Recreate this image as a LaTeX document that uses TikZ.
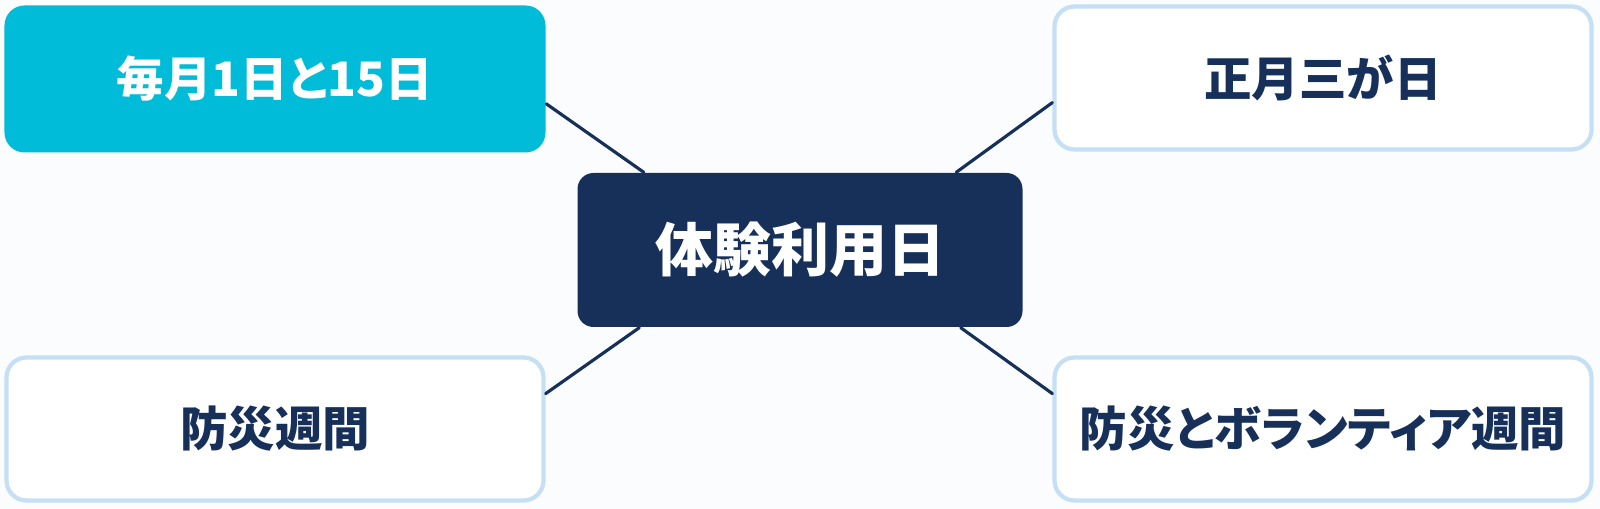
\documentclass[tikz,border=0pt]{standalone}
\usepackage{fontspec}
\setmainfont{Noto Sans CJK JP}[RawFeature=+palt]
\usetikzlibrary{calc}
\definecolor{navy}{RGB}{22,48,90}
\definecolor{cyanbox}{RGB}{0,188,217}
\definecolor{edgeblue}{RGB}{197,223,245}
\definecolor{bg}{RGB}{251,252,254}
\begin{document}
\begin{tikzpicture}[line join=round,line cap=round,
	box/.style={rounded corners=.2cm,minimum width=5.37cm,minimum height=1.43cm,inner sep=0pt,
		font=\fontsize{13.5}{16}\selectfont\bfseries},
	dayfill/.style={box,fill=cyanbox,minimum width=5.41cm,minimum height=1.47cm,text=white},
	dayline/.style={box,draw=edgeblue,line width=1.2pt,fill=white,text=navy},
	hub/.style={rounded corners=.16cm,fill=navy,text=white,minimum width=4.45cm,minimum height=1.54cm,
		inner sep=0pt,font=\fontsize{16.5}{20}\selectfont\bfseries},
	link/.style={navy,line width=.9pt}]
	\fill[bg] (0,0) rectangle (16,5.09);
	\path
	(8,2.59) node[hub] (mid) {体験利用日}
	(2.75,4.30) node[dayfill] (tl) {毎月1日と15日}
	(13.23,4.31) node[dayline] (tr) {正月三が日}
	(2.75,0.80) node[dayline] (bl) {防災週間}
	(13.23,0.80) node[dayline] (br) {防災とボランティア週間}
	;
	\draw[link]
	($(tl.north east)!.667!(tl.south east)$)--($(mid.north west)!.15!(mid.north east)$)
	($(tr.north west)!.667!(tr.south west)$)--($(mid.north east)!.15!(mid.north west)$)
	($(bl.north east)!.26!(bl.south east)$)--($(mid.south west)!.14!(mid.south east)$)
	($(br.north west)!.26!(br.south west)$)--($(mid.south east)!.14!(mid.south west)$)
	;
\end{tikzpicture}
\end{document}
